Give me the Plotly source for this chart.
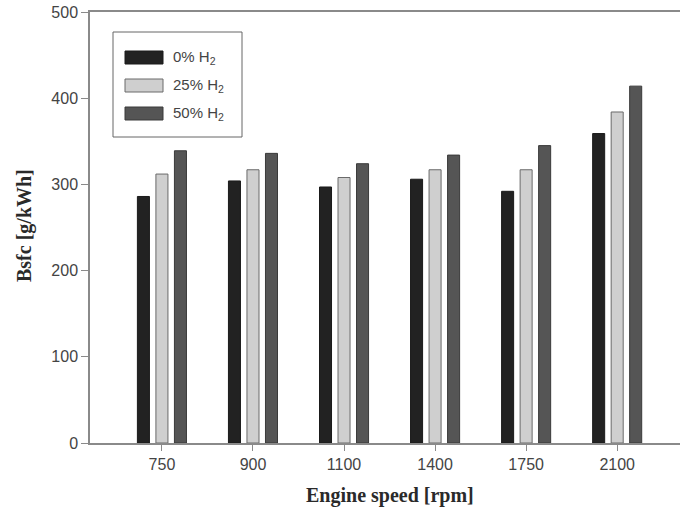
import plotly.graph_objects as go

categories = ["750", "900", "1100", "1400", "1750", "2100"]
series_names = ["0% H<sub>2</sub>", "25% H<sub>2</sub>", "50% H<sub>2</sub>"]
h2_0 = [286, 304, 297, 306, 292, 359]
h2_25 = [312, 317, 308, 317, 317, 384]
h2_50 = [339, 336, 324, 334, 345, 414]
y_ticks = [0, 100, 200, 300, 400, 500]

fills = ["#222222", "#cfcfcf", "#555555"]
edges = ["#1a1a1a", "#6a6a6a", "#3a3a3a"]

W, H = 680, 508
L, R, T, B = 90, 0, 12, 65
PW, PH = W - L - R, H - T - B


def px(x):
    return (x - L) / PW


def py(y):
    return 1 - (y - T) / PH


fig = go.Figure()
for name, vals, fc, ec in zip(series_names, [h2_0, h2_25, h2_50], fills, edges):
    fig.add_trace(go.Bar(
        x=list(range(len(categories))), y=vals, name=name,
        marker=dict(color=fc, line=dict(color=ec, width=1)),
        showlegend=False,
    ))

# custom legend (box, swatches, labels)
shapes = [dict(type="rect", xref="paper", yref="paper",
               x0=px(113), x1=px(242), y0=py(137), y1=py(32),
               line=dict(color="#666666", width=1), fillcolor="white", layer="above")]
annotations = []
row_y = [57.5, 85.5, 113.5]
for name, fc, ec, yy in zip(series_names, fills, edges, row_y):
    shapes.append(dict(type="rect", xref="paper", yref="paper",
                       x0=px(125), x1=px(163), y0=py(yy + 6.5), y1=py(yy - 6.5),
                       line=dict(color=ec, width=1), fillcolor=fc, layer="above"))
    annotations.append(dict(xref="paper", yref="paper", x=px(171), y=py(yy),
                            text=name, showarrow=False, xanchor="left", yanchor="middle",
                            font=dict(family="Liberation Sans, Arial", size=15, color="#444444")))

annotations.append(dict(xref="paper", yref="paper", x=px(390), y=py(495),
                        text="<b>Engine speed [rpm]</b>", showarrow=False,
                        xanchor="center", yanchor="middle",
                        font=dict(family="Liberation Serif, Times New Roman", size=20, color="#2a2a2a")))
annotations.append(dict(xref="paper", yref="paper", x=px(25), y=py(226),
                        text="<b>Bsfc [g/kWh]</b>", showarrow=False, textangle=-90,
                        xanchor="center", yanchor="middle",
                        font=dict(family="Liberation Serif, Times New Roman", size=20, color="#2a2a2a")))

fig.update_layout(
    width=W, height=H,
    margin=dict(l=L, r=R, t=T, b=B, pad=0),
    paper_bgcolor="white", plot_bgcolor="white",
    barmode="group", bargap=0.39, bargroupgap=0.35,
    shapes=shapes, annotations=annotations,
    font=dict(family="Liberation Sans, Arial", size=16, color="#444444"),
)
fig.update_xaxes(
    range=[-0.79, 5.69], tickmode="array",
    tickvals=list(range(len(categories))), ticktext=categories,
    showline=True, linecolor="#8a8a8a", linewidth=1.5, mirror=True,
    ticks="outside", ticklen=6, tickcolor="#8a8a8a", tickwidth=1,
    showgrid=False, zeroline=False,
    tickfont=dict(family="Liberation Sans, Arial", size=16, color="#444444"),
)
fig.update_yaxes(
    range=[0, 500], tickvals=y_ticks,
    showline=True, linecolor="#8a8a8a", linewidth=1.5,
    ticks="outside", ticklen=7, tickcolor="#8a8a8a", tickwidth=1,
    showgrid=False, zeroline=False,
    tickfont=dict(family="Liberation Sans, Arial", size=16, color="#444444"),
)

fig.write_html("out.html", config={"displayModeBar": False},
               post_script="document.body.style.margin='0';document.body.style.overflow='hidden';")
